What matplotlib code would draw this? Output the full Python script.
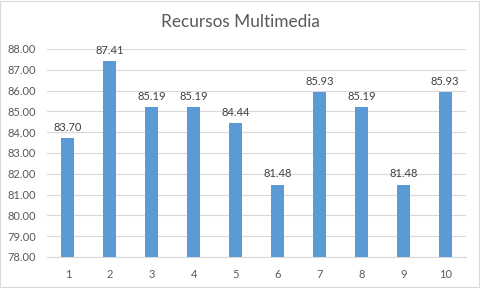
import matplotlib
matplotlib.use("Agg")
import matplotlib.pyplot as plt

categories = ["1", "2", "3", "4", "5", "6", "7", "8", "9", "10"]
values = [83.70, 87.41, 85.19, 85.19, 84.44, 81.48, 85.93, 85.19, 81.48, 85.93]
yticks = [78, 79, 80, 81, 82, 83, 84, 85, 86, 87, 88]
title = "Recursos Multimedia"

plt.rcParams['font.family'] = ['Lato', 'DejaVu Sans']
fig = plt.figure(figsize=(4.8, 2.88), dpi=100)
fig.patch.set_facecolor('white')
ax = fig.add_axes([0.098, 0.108, 0.873, 0.722])

x = list(range(len(categories)))
ax.bar(x, values, width=0.31, color='#5B9BD5', zorder=3)
for xi, v in zip(x, values):
    ax.text(xi, v + 0.25, f"{v:.2f}", ha='center', va='bottom', fontsize=8, color='#404040')

ax.set_ylim(78, 88)
ax.set_xlim(-0.5, len(categories) - 0.5)
ax.set_yticks(yticks)
ax.set_yticklabels([f"{t:.2f}" for t in yticks])
ax.set_xticks(x)
ax.set_xticklabels(categories)
ax.tick_params(axis='both', length=0, labelsize=8, colors='#595959')
ax.tick_params(axis='x', pad=9)
ax.tick_params(axis='y', pad=8)
ax.grid(axis='y', color='#D9D9D9', linewidth=0.8, zorder=0)
for s in ['top', 'right', 'left']:
    ax.spines[s].set_visible(False)
ax.spines['bottom'].set_color('#D9D9D9')
ax.spines['bottom'].set_linewidth(0.8)

fig.text(0.5, 0.924, title, ha='center', va='center', fontsize=12.4, color='#595959')

border = plt.Rectangle((0.001, 0.002), 0.997, 0.995, transform=fig.transFigure,
                       fill=False, edgecolor='#D9D9D9', linewidth=0.8)
fig.add_artist(border)

fig.savefig('out.png', dpi=100)
